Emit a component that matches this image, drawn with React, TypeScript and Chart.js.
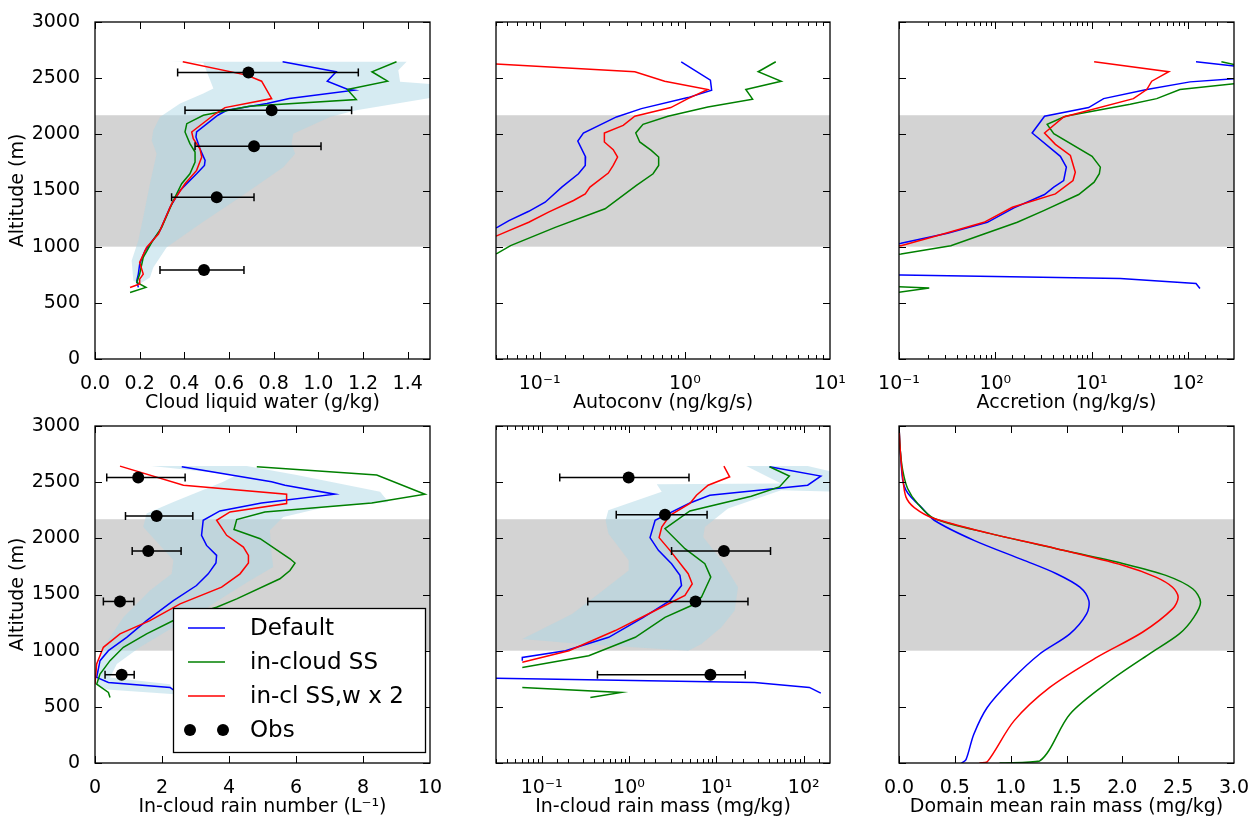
import React, { useEffect, useRef } from "react";
import { Chart, registerables } from "chart.js";

Chart.register(...registerables);

type Pt = [number, number]; // [value, altitude m]

// ---------------- data ----------------
const altitudeMin = 0;
const altitudeMax = 3000;
const altitudeStep = 500;
const cloudLayerBase = 1000;
const cloudLayerTop = 2170;

const runNames = ["Default", "in-cloud SS", "in-cl SS,w x 2"];
const runColors = ["#0000ff", "#008000", "#ff0000"];
const obsName = "Obs";

// Cloud liquid water (g/kg)
const lwcDefault: Pt[] = [[0.84, 2646], [1.08, 2557], [1.04, 2473], [1.13, 2402], [1.16, 2393], [0.87, 2318], [0.77, 2274], [0.59, 2214], [0.55, 2170], [0.455, 2021], [0.452, 1976], [0.47, 1872], [0.493, 1768], [0.49, 1723], [0.455, 1649], [0.425, 1589], [0.381, 1500], [0.336, 1351], [0.291, 1143], [0.224, 964], [0.2, 845], [0.194, 756], [0.187, 696], [0.194, 637]];
const lwcInCloud: Pt[] = [[1.35, 2646], [1.24, 2557], [1.31, 2473], [1.13, 2399], [1.17, 2310], [0.69, 2250], [0.485, 2170], [0.411, 2095], [0.403, 2021], [0.425, 1917], [0.448, 1842], [0.448, 1753], [0.425, 1649], [0.388, 1560], [0.351, 1411], [0.299, 1173], [0.254, 1039], [0.216, 905], [0.2, 756], [0.187, 681], [0.228, 637], [0.157, 592]];
const lwcW2: Pt[] = [[0.393, 2646], [0.679, 2527], [0.746, 2473], [0.791, 2318], [0.582, 2238], [0.53, 2170], [0.433, 2021], [0.44, 1961], [0.47, 1872], [0.478, 1798], [0.455, 1679], [0.403, 1560], [0.343, 1381], [0.284, 1113], [0.231, 994], [0.2, 860], [0.216, 756], [0.2, 711], [0.2, 667], [0.157, 637]];
const lwcSpread: Pt[] = [[0.343, 2646], [0.485, 2637], [0.53, 2408], [0.485, 2363], [0.381, 2274], [0.291, 2155], [0.261, 2036], [0.254, 1946], [0.276, 1828], [0.246, 1560], [0.216, 1262], [0.194, 1054], [0.164, 875], [0.172, 696], [0.2, 667], [0.246, 726], [0.261, 815], [0.321, 994], [0.47, 1202], [0.649, 1440], [0.843, 1708], [0.896, 1828], [0.88, 1917], [0.888, 2006], [1.052, 2155], [1.17, 2214], [1.55, 2340], [1.55, 2440], [1.366, 2467], [1.358, 2571], [1.395, 2646]];
const lwcObsAlt = [2551, 2214, 1893, 1440, 792];
const lwcObs = [0.687, 0.791, 0.712, 0.545, 0.488];
const lwcObsLo = [0.37, 0.403, 0.448, 0.343, 0.291];
const lwcObsHi = [1.179, 1.149, 1.012, 0.712, 0.667];

// Autoconversion (ng/kg/s)
const autoDefault: Pt[] = [[0.944, 2646], [1.5, 2482], [1.53, 2393], [1.05, 2327], [0.502, 2229], [0.338, 2155], [0.2, 2012], [0.183, 1940], [0.207, 1798], [0.206, 1723], [0.185, 1649], [0.142, 1530], [0.109, 1396], [0.0841, 1315], [0.0614, 1232], [0.051, 1172], [0.045, 1150]];
const autoInCloud: Pt[] = [[4.23, 2646], [3.2, 2557], [4.61, 2473], [2.63, 2399], [2.93, 2313], [1.44, 2244], [0.765, 2161], [0.515, 2089], [0.459, 2012], [0.489, 1932], [0.587, 1857], [0.66, 1798], [0.66, 1723], [0.604, 1649], [0.464, 1545], [0.282, 1337], [0.128, 1172], [0.063, 1009], [0.051, 940], [0.045, 920]];
const autoW2: Pt[] = [[0.04, 2632], [0.452, 2557], [0.726, 2473], [1.44, 2399], [1.05, 2318], [0.8, 2238], [0.452, 2161], [0.376, 2080], [0.279, 2012], [0.279, 1932], [0.321, 1863], [0.344, 1798], [0.321, 1723], [0.297, 1655], [0.222, 1530], [0.206, 1470], [0.171, 1411], [0.115, 1307], [0.0841, 1217], [0.0614, 1143], [0.051, 1098], [0.045, 1080]];

// Accretion (ng/kg/s)
const accDefault: Pt[] = [[121, 2646], [320, 2605], [450, 2550], [320, 2497], [105, 2467], [37.3, 2399], [13.3, 2318], [9.29, 2238], [3.24, 2161], [2.41, 2012], [4.73, 1804], [5.46, 1708], [5.12, 1589], [4.04, 1530], [3.24, 1464], [1.56, 1345], [0.826, 1217], [0.319, 1119], [0.105, 1030], [0.09, 1020]];
const accDefaultLow: Pt[] = [[0.09, 748], [0.105, 747], [19.8, 717], [121, 672], [133, 628]];
const accInCloud: Pt[] = [[222, 2646], [320, 2616], [450, 2540], [320, 2453], [82.4, 2399], [47.3, 2318], [25.1, 2268], [5.33, 2161], [3.45, 2089], [4.04, 2006], [10.1, 1804], [12.3, 1708], [12.0, 1649], [10.6, 1574], [7.33, 1464], [3.18, 1321], [1.69, 1217], [0.762, 1113], [0.345, 1009], [0.105, 935], [0.09, 930]];
const accInCloudLow: Pt[] = [[0.09, 645], [0.206, 631], [0.09, 590]];
const accW2: Pt[] = [[10.6, 2646], [63.2, 2557], [42, 2473], [37.3, 2399], [27.1, 2318], [5.12, 2155], [3.24, 2012], [4.2, 1911], [6.01, 1812], [6.76, 1663], [6.4, 1589], [4.2, 1470], [1.5, 1351], [0.762, 1217], [0.306, 1119], [0.105, 1009], [0.09, 1003]];

// In-cloud rain number (1/L)
const nrDefault: Pt[] = [[2.59, 2637], [5.27, 2503], [5.67, 2473], [7.16, 2393], [4.97, 2315], [3.73, 2244], [3.23, 2161], [3.18, 2027], [3.33, 1937], [3.63, 1848], [3.61, 1780], [3.38, 1684], [3.03, 1580], [2.34, 1446], [1.54, 1268], [0.946, 1119], [0.4, 1000], [0.15, 911], [0.05, 762], [0.4, 717], [2.24, 673], [2.5, 615]];
const nrInCloud: Pt[] = [[4.83, 2637], [8.41, 2563], [9.85, 2393], [8.26, 2315], [5.07, 2235], [4.23, 2167], [4.15, 2078], [4.93, 1997], [5.82, 1818], [5.97, 1780], [5.82, 1714], [5.52, 1640], [4.23, 1461], [3.63, 1387], [2.34, 1268], [1.54, 1149], [0.846, 1030], [0.448, 911], [0.15, 792], [0.05, 702], [0.4, 628], [0.448, 583]];
const nrW2: Pt[] = [[0.746, 2643], [2.64, 2473], [5.72, 2393], [5.72, 2310], [4.03, 2235], [3.63, 2161], [3.93, 2027], [4.43, 1922], [4.58, 1848], [4.58, 1780], [4.33, 1684], [3.78, 1565], [2.54, 1417], [1.64, 1268], [0.746, 1149], [0.25, 1030], [0.05, 881], [0.0, 702]];
const nrSpread: Pt[] = [[1.69, 2643], [4.23, 2563], [3.83, 2503], [2.34, 2324], [1.54, 2220], [1.44, 2101], [2.34, 1804], [2.29, 1685], [1.64, 1536], [0.846, 1297], [0.25, 1030], [0.05, 792], [0.05, 702], [0.35, 655], [2.39, 613], [2.24, 702], [0.45, 762], [0.65, 881], [1.34, 1030], [2.34, 1208], [3.23, 1357], [3.83, 1476], [4.63, 1625], [5.32, 1744], [5.27, 1863], [5.22, 2072], [5.62, 2191], [6.82, 2274], [8.76, 2324], [8.51, 2414], [6.02, 2563], [4.53, 2643]];
const nrObsAlt = [2542, 2199, 1887, 1438, 786];
const nrObs = [1.29, 1.84, 1.59, 0.746, 0.796];
const nrObsLo = [0.35, 0.91, 1.11, 0.25, 0.3];
const nrObsHi = [2.69, 2.92, 2.57, 1.16, 1.17];

// In-cloud rain mass (mg/kg)
const qrDefault: Pt[] = [[40.6, 2637], [157, 2554], [111, 2473], [8.41, 2384], [4.98, 2315], [1.99, 2161], [1.74, 2006], [2.17, 1893], [3.07, 1774], [3.83, 1670], [3.99, 1580], [2.94, 1446], [1.46, 1297], [0.585, 1119], [0.1875, 1000], [0.06, 940], [0.06, 911]];
const qrDefaultLow: Pt[] = [[0.02, 757], [27.4, 717], [116, 673], [157, 622]];
const qrInCloud: Pt[] = [[40.6, 2637], [68.5, 2554], [52.7, 2458], [25.1, 2375], [4.98, 2244], [2.58, 2086], [4.37, 1908], [7.38, 1774], [8.63, 1655], [6.74, 1476], [5.19, 1402], [2.58, 1297], [1.18, 1119], [0.346, 955], [0.06, 851]];
const qrInCloudLow: Pt[] = [[0.06, 673], [0.815, 628], [0.361, 583]];
const qrW2: Pt[] = [[12.2, 2643], [14.2, 2548], [8.05, 2473], [5.92, 2384], [4.98, 2310], [2.94, 2205], [2.37, 2101], [2.21, 2006], [2.94, 1893], [4.76, 1685], [5.29, 1595], [4.37, 1491], [1.82, 1342], [0.697, 1179], [0.205, 1000], [0.06, 896]];
const qrSpread: Pt[] = [[22, 2643], [55, 2488], [2.08, 2482], [2.37, 2414], [0.58, 2250], [0.54, 2161], [0.58, 2042], [0.99, 1804], [0.99, 1714], [0.45, 1506], [0.223, 1327], [0.06, 1104], [0.223, 1065], [4.76, 1000], [6.74, 1060], [11.4, 1208], [16.2, 1357], [17.7, 1565], [11.4, 1804], [7.07, 2012], [7.38, 2101], [13.6, 2265], [55, 2429], [250, 2414], [250, 2580], [111, 2643]];
const qrObsAlt = [2542, 2210, 1887, 1438, 786];
const qrObs = [0.99, 2.58, 12.2, 5.77, 8.55];
const qrObsLo = [0.161, 0.714, 3.07, 0.337, 0.435];
const qrObsHi = [4.86, 7.83, 41.7, 23.0, 21.4];

// Domain mean rain mass (mg/kg)
const dmDefault: Pt[] = [[0, 3000], [0.01, 2800], [0.033, 2518], [0.062, 2429], [0.107, 2369], [0.196, 2280], [0.315, 2161], [0.671, 1982], [1.12, 1804], [1.41, 1685], [1.62, 1565], [1.7, 1446], [1.68, 1327], [1.53, 1149], [1.26, 970], [1.0, 732], [0.79, 494], [0.67, 256], [0.6, 30], [0.56, 0]];
const dmInCloud: Pt[] = [[0, 3000], [0.01, 2800], [0.033, 2607], [0.077, 2444], [0.166, 2310], [0.315, 2176], [0.82, 2042], [1.41, 1908], [2.01, 1774], [2.39, 1670], [2.63, 1551], [2.7, 1432], [2.64, 1297], [2.51, 1149], [2.24, 970], [1.89, 732], [1.53, 435], [1.26, 18], [0.9, 0]];
const dmW2: Pt[] = [[0, 3000], [0.01, 2800], [0.033, 2548], [0.062, 2369], [0.137, 2274], [0.315, 2176], [0.82, 2042], [1.41, 1908], [2.01, 1759], [2.3, 1655], [2.45, 1565], [2.5, 1476], [2.45, 1372], [2.18, 1164], [1.77, 940], [1.35, 673], [1.03, 375], [0.79, 10], [0.72, 0]];

// ---------------- helpers ----------------
const FONT = "'DejaVu Sans', 'Liberation Sans', sans-serif";
const SUP: Record<string, string> = { "-": "⁻", "0": "⁰", "1": "¹", "2": "²", "3": "³", "4": "⁴", "5": "⁵", "6": "⁶", "7": "⁷", "8": "⁸", "9": "⁹" };
const isPow10 = (v: number) => {
  const e = Math.log10(v);
  return Math.abs(e - Math.round(e)) < 1e-6;
};
const powLabel = (v: number) =>
  isPow10(v) ? "10" + String(Math.round(Math.log10(v))).split("").map((c) => SUP[c]).join("") : "";

interface Obs { alt: number[]; val: number[]; lo: number[]; hi: number[] }
interface PanelDef {
  col: number;
  row: number;
  xType: "linear" | "logarithmic";
  xMin: number;
  xMax: number;
  xStep?: number;
  xLabel: (v: number) => string;
  xTitle: string;
  lines: { pts: Pt[]; run: number }[];
  shade?: Pt[];
  obs?: Obs;
  smooth?: boolean;
  legend?: boolean;
}

const COLS = [[95, 430], [496, 830], [899, 1234]];
const ROWS = [[22, 359], [426, 763]];
const TOP = 12;
const BOT = 55;

function geometry(col: number, row: number) {
  const [l, r] = COLS[col];
  const [t, b] = ROWS[row];
  const ls = col === 0 ? 95 : 30;
  const rs = col === 2 ? 18 : 20;
  return { x: l - ls, y: t - TOP, w: ls + (r - l) + rs, h: TOP + (b - t) + BOT, ls, rs };
}

const bandPlugin = {
  id: "cloudBand",
  beforeDatasetsDraw(chart: any) {
    const { ctx, chartArea: a, scales } = chart;
    const y1 = scales.y.getPixelForValue(cloudLayerTop);
    const y0 = scales.y.getPixelForValue(cloudLayerBase);
    ctx.save();
    ctx.fillStyle = "#d3d3d3";
    ctx.fillRect(a.left, y1, a.right - a.left, y0 - y1);
    ctx.restore();
  },
};

const framePlugin = {
  id: "frameTicks",
  afterDatasetsDraw(chart: any) {
    const { ctx, chartArea: a, scales } = chart;
    const xs = scales.x;
    const ys = scales.y;
    const isLog = xs.type === "logarithmic";
    ctx.save();
    ctx.strokeStyle = "#000";
    ctx.lineWidth = 1;
    ctx.beginPath();
    xs.ticks.forEach((t: any) => {
      const px = Math.round(xs.getPixelForValue(t.value)) + 0.5;
      if (px < a.left || px > a.right) return;
      const len = !isLog || isPow10(t.value) ? 7 : 4;
      ctx.moveTo(px, a.bottom);
      ctx.lineTo(px, a.bottom - len);
      ctx.moveTo(px, a.top);
      ctx.lineTo(px, a.top + len);
    });
    ys.ticks.forEach((t: any) => {
      const py = Math.round(ys.getPixelForValue(t.value)) + 0.5;
      if (py < a.top - 1 || py > a.bottom + 1) return;
      ctx.moveTo(a.left, py);
      ctx.lineTo(a.left + 7, py);
      ctx.moveTo(a.right, py);
      ctx.lineTo(a.right - 7, py);
    });
    ctx.stroke();
    ctx.lineWidth = 1.3;
    ctx.strokeRect(a.left, a.top, a.right - a.left, a.bottom - a.top);
    ctx.restore();
  },
};

const legendPlugin = {
  id: "insideLegend",
  afterDraw(chart: any) {
    const { ctx, chartArea: a } = chart;
    const bw = 252;
    const bh = 144;
    const bx = Math.round(a.right - 5 - bw);
    const by = Math.round(a.bottom - 11 - bh);
    ctx.save();
    ctx.fillStyle = "#fff";
    ctx.fillRect(bx, by, bw, bh);
    ctx.strokeStyle = "#000";
    ctx.lineWidth = 1.3;
    ctx.strokeRect(bx + 0.5, by + 0.5, bw, bh);
    ctx.font = `23px ${FONT}`;
    ctx.textBaseline = "middle";
    ctx.textAlign = "left";
    const labels = [...runNames, obsName];
    labels.forEach((name, i) => {
      const yy = by + 20 + i * 34;
      if (i < runNames.length) {
        ctx.strokeStyle = runColors[i];
        ctx.lineWidth = 1.5;
        ctx.beginPath();
        ctx.moveTo(bx + 15, yy);
        ctx.lineTo(bx + 52, yy);
        ctx.stroke();
      } else {
        ctx.fillStyle = "#000";
        [bx + 17, bx + 50].forEach((cx) => {
          ctx.beginPath();
          ctx.arc(cx, yy, 6, 0, Math.PI * 2);
          ctx.fill();
        });
      }
      ctx.fillStyle = "#000";
      ctx.fillText(name, bx + 77, yy + 1);
    });
    ctx.restore();
  },
};

function buildConfig(def: PanelDef, g: ReturnType<typeof geometry>): any {
  const toXY = (pts: Pt[]) => pts.map(([x, y]) => ({ x, y }));
  const datasets: any[] = [];
  if (def.shade) {
    datasets.push({
      data: toXY(def.shade),
      borderColor: "rgba(0,0,0,0)",
      borderWidth: 0,
      pointRadius: 0,
      backgroundColor: "rgba(173,216,230,0.5)",
      fill: "shape",
      tension: 0,
      order: 10,
      clip: 0,
    });
  }
  def.lines.forEach((ln) => {
    datasets.push({
      data: toXY(ln.pts),
      borderColor: runColors[ln.run],
      borderWidth: 1.5,
      pointRadius: 0,
      fill: false,
      tension: def.smooth ? 0.3 : 0,
      order: 6 - ln.run,
    });
  });
  if (def.obs) {
    const o = def.obs;
    o.alt.forEach((alt, i) => {
      datasets.push({
        data: [{ x: o.lo[i], y: alt }, { x: o.hi[i], y: alt }],
        borderColor: "#000",
        borderWidth: 1.5,
        pointStyle: "line",
        pointRotation: 90,
        pointRadius: 4,
        pointBorderColor: "#000",
        pointBorderWidth: 1.5,
        fill: false,
        tension: 0,
        order: 2,
      });
    });
    datasets.push({
      data: o.val.map((v, i) => ({ x: v, y: o.alt[i] })),
      showLine: false,
      pointStyle: "circle",
      pointRadius: 6,
      pointBackgroundColor: "#000",
      pointBorderColor: "#000",
      pointBorderWidth: 0,
      order: 1,
    });
  }
  const showY = def.col === 0;
  const xTicks: any = {
    autoSkip: false,
    maxRotation: 0,
    minRotation: 0,
    padding: 6,
    color: "#000",
    font: { size: 19, family: FONT },
    callback: (v: any) => def.xLabel(Number(v)),
  };
  if (def.xType === "linear") {
    xTicks.stepSize = def.xStep;
    xTicks.includeBounds = false;
  }
  return {
    type: "line",
    data: { datasets },
    options: {
      responsive: false,
      animation: false,
      devicePixelRatio: 1,
      events: [],
      layout: { padding: { left: 0, right: g.rs, top: TOP, bottom: 0 } },
      plugins: { legend: { display: false }, tooltip: { enabled: false } },
      scales: {
        x: {
          type: def.xType,
          position: "bottom",
          min: def.xMin,
          max: def.xMax,
          grid: { display: false },
          border: { display: false },
          ticks: xTicks,
          title: {
            display: true,
            text: def.xTitle,
            color: "#000",
            font: { size: 19, family: FONT },
            padding: { top: 0, bottom: 0 },
          },
          afterFit: (s: any) => {
            s.height = BOT;
            s.paddingLeft = 0;
            s.paddingRight = 0;
          },
        },
        y: {
          type: "linear",
          position: "left",
          min: altitudeMin,
          max: altitudeMax,
          grid: { display: false },
          border: { display: false },
          ticks: {
            display: showY,
            stepSize: altitudeStep,
            padding: 7,
            color: "#000",
            font: { size: 19, family: FONT },
            callback: (v: any) => String(v),
          },
          title: {
            display: showY,
            text: "Altitude (m)",
            color: "#000",
            font: { size: 19, family: FONT },
            padding: { top: 7, bottom: 0 },
          },
          afterFit: (s: any) => {
            s.width = g.ls;
            s.paddingTop = 0;
            s.paddingBottom = 0;
          },
        },
      },
    },
    plugins: def.legend ? [bandPlugin, framePlugin, legendPlugin] : [bandPlugin, framePlugin],
  };
}

const PANELS: PanelDef[] = [
  {
    col: 0, row: 0, xType: "linear", xMin: 0, xMax: 1.5, xStep: 0.2,
    xLabel: (v) => v.toFixed(1), xTitle: "Cloud liquid water (g/kg)",
    lines: [{ pts: lwcDefault, run: 0 }, { pts: lwcInCloud, run: 1 }, { pts: lwcW2, run: 2 }],
    shade: lwcSpread,
    obs: { alt: lwcObsAlt, val: lwcObs, lo: lwcObsLo, hi: lwcObsHi },
  },
  {
    col: 1, row: 0, xType: "logarithmic", xMin: 0.05, xMax: 10,
    xLabel: powLabel, xTitle: "Autoconv (ng/kg/s)",
    lines: [{ pts: autoDefault, run: 0 }, { pts: autoInCloud, run: 1 }, { pts: autoW2, run: 2 }],
  },
  {
    col: 2, row: 0, xType: "logarithmic", xMin: 0.1, xMax: 300,
    xLabel: powLabel, xTitle: "Accretion (ng/kg/s)",
    lines: [
      { pts: accDefault, run: 0 }, { pts: accDefaultLow, run: 0 },
      { pts: accInCloud, run: 1 }, { pts: accInCloudLow, run: 1 },
      { pts: accW2, run: 2 },
    ],
  },
  {
    col: 0, row: 1, xType: "linear", xMin: 0, xMax: 10, xStep: 2,
    xLabel: (v) => String(Math.round(v)), xTitle: "In-cloud rain number (L⁻¹)",
    lines: [{ pts: nrDefault, run: 0 }, { pts: nrInCloud, run: 1 }, { pts: nrW2, run: 2 }],
    shade: nrSpread,
    obs: { alt: nrObsAlt, val: nrObs, lo: nrObsLo, hi: nrObsHi },
    legend: true,
  },
  {
    col: 1, row: 1, xType: "logarithmic", xMin: 0.03, xMax: 200,
    xLabel: powLabel, xTitle: "In-cloud rain mass (mg/kg)",
    lines: [
      { pts: qrDefault, run: 0 }, { pts: qrDefaultLow, run: 0 },
      { pts: qrInCloud, run: 1 }, { pts: qrInCloudLow, run: 1 },
      { pts: qrW2, run: 2 },
    ],
    shade: qrSpread,
    obs: { alt: qrObsAlt, val: qrObs, lo: qrObsLo, hi: qrObsHi },
  },
  {
    col: 2, row: 1, xType: "linear", xMin: 0, xMax: 3, xStep: 0.5,
    xLabel: (v) => v.toFixed(1), xTitle: "Domain mean rain mass (mg/kg)",
    lines: [{ pts: dmDefault, run: 0 }, { pts: dmInCloud, run: 1 }, { pts: dmW2, run: 2 }],
    smooth: true,
  },
];

function Panel({ def }: { def: PanelDef }) {
  const ref = useRef<HTMLCanvasElement | null>(null);
  const g = geometry(def.col, def.row);
  useEffect(() => {
    if (!ref.current) return;
    const chart = new Chart(ref.current, buildConfig(def, g));
    return () => chart.destroy();
  }, []);
  return (
    <canvas
      ref={ref}
      width={g.w}
      height={g.h}
      style={{ position: "absolute", left: g.x, top: g.y, width: g.w, height: g.h }}
    />
  );
}

export default function App() {
  return (
    <div style={{ position: "absolute", left: 0, top: 0, width: 1252, height: 818, background: "#fff", overflow: "hidden" }}>
      {PANELS.map((p, i) => (
        <Panel key={i} def={p} />
      ))}
    </div>
  );
}
